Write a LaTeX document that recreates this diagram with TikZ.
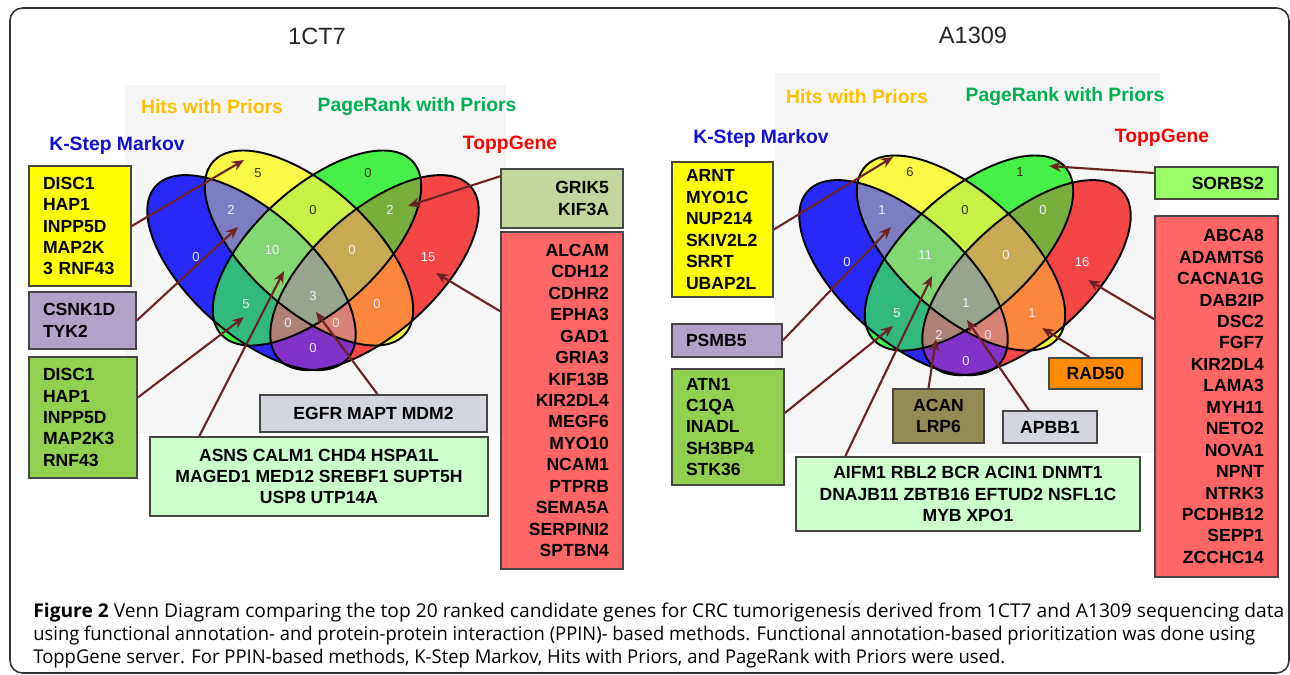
\documentclass[tikz,border=0pt]{standalone}
\usepackage{fontspec}
\setmainfont{Liberation Sans}
\newfontfamily\capfont{Open Sans}
\usepackage{graphicx}
\usetikzlibrary{calc,arrows.meta,positioning}
\definecolor{hitsx}{HTML}{FFC000}
\definecolor{pagex}{HTML}{00B050}
\definecolor{kstepx}{HTML}{1010D0}
\definecolor{toppx}{HTML}{FF0000}
\definecolor{arrowx}{RGB}{110,35,35}
\definecolor{boxln}{RGB}{70,70,70}
\definecolor{softbg}{HTML}{F6F6F6}
\definecolor{numlt}{RGB}{240,238,255}
\definecolor{numdk}{RGB}{50,50,20}
% region colours
\definecolor{rA}{RGB}{40,40,250}
\definecolor{rB}{RGB}{250,250,70}
\definecolor{rC}{RGB}{70,240,70}
\definecolor{rD}{RGB}{245,70,70}
\definecolor{rAB}{RGB}{125,125,195}
\definecolor{rBC}{RGB}{200,240,70}
\definecolor{rCD}{RGB}{120,175,60}
\definecolor{rAC}{RGB}{50,185,125}
\definecolor{rBD}{RGB}{250,135,60}
\definecolor{rAD}{RGB}{130,50,200}
\definecolor{rABC}{RGB}{130,215,115}
\definecolor{rBCD}{RGB}{200,170,85}
\definecolor{rACD}{RGB}{175,130,120}
\definecolor{rABD}{RGB}{215,130,115}
\definecolor{rABCD}{RGB}{150,165,140}
% box fills
\definecolor{yelbox}{RGB}{255,255,0}
\definecolor{lavbox}{RGB}{179,162,199}
\definecolor{grnbox}{RGB}{146,208,80}
\definecolor{olibox}{RGB}{195,214,155}
\definecolor{redbox}{RGB}{255,102,102}
\definecolor{grybox}{RGB}{211,214,222}
\definecolor{mintbox}{RGB}{204,255,204}
\definecolor{limebox}{RGB}{153,255,102}
\definecolor{orabox}{RGB}{255,140,0}
\definecolor{khabox}{RGB}{148,138,84}
\tikzset{
  elA/.style={shift={(-61.5,22.6)},rotate=-42},
  elB/.style={shift={(-4,-2)},rotate=-42},
  elC/.style={shift={(4,-2)},rotate=42},
  elD/.style={shift={(61.5,22.6)},rotate=42},
  rim/.style={line width=1.1pt,black},
  num/.style={font=\fontsize{7.4}{8}\selectfont,text=numlt,inner sep=1pt},
  numd/.style={num,text=numdk},
  setlab/.style={font=\fontsize{11}{13}\selectfont\bfseries},
  ttl/.style={font=\fontsize{13.4}{16}\selectfont,text=black!85},
  gbox/.style={draw=boxln,line width=0.9pt,inner xsep=0.28cm,inner ysep=0pt,font=\fontsize{10}{12.2}\selectfont\bfseries},
  lbox/.style={gbox,align=left},
  rbox/.style={gbox,align=right},
  cbox/.style={gbox,align=center},
  ar/.style={-{Stealth[length=2.4mm,width=2mm]},line width=1.2pt,arrowx},
  capl/.style={anchor=base west,inner sep=0pt,font=\capfont\fontsize{10.8}{13}\selectfont}
}
\newcommand\vell{(0,0) ellipse [x radius=129,y radius=61]}
\newcommand\vtwo[3]{\begin{scope}\clip[el#1]\vell;\fill[#3,el#2]\vell;\end{scope}}
\newcommand\vthree[4]{\begin{scope}\clip[el#1]\vell;\clip[el#2]\vell;\fill[#4,el#3]\vell;\end{scope}}
\newcommand\vennbase{%
  \fill[rA,elA]\vell; \fill[rB,elB]\vell; \fill[rC,elC]\vell; \fill[rD,elD]\vell;
  \vtwo{A}{B}{rAB}\vtwo{B}{C}{rBC}\vtwo{C}{D}{rCD}
  \vtwo{A}{C}{rAC}\vtwo{B}{D}{rBD}\vtwo{A}{D}{rAD}
  \vthree{A}{B}{C}{rABC}\vthree{B}{C}{D}{rBCD}
  \vthree{A}{C}{D}{rACD}\vthree{A}{B}{D}{rABD}
  \begin{scope}\clip[elA]\vell;\clip[elB]\vell;\clip[elC]\vell;\fill[rABCD,elD]\vell;\end{scope}
  \draw[rim,elA]\vell; \draw[rim,elB]\vell; \draw[rim,elC]\vell; \draw[rim,elD]\vell;
}

\begin{document}
\begin{tikzpicture}[x=0.02cm,y=-0.02cm]
\useasboundingbox (0,0) rectangle (1290,674);
\draw[line width=0.9pt,black!80,rounded corners=0.25cm] (10,8) rectangle (1289,673);
\fill[softbg] (125,85) rectangle (506,433);
\fill[softbg] (775,73) rectangle (1160,453);

% titles and set names
\node[ttl] (ttlL) at (317,36) {1CT7};
\node[ttl] (ttlR) at (973,35) {A1309};
\node[setlab,hitsx] (hitsL) at (212,107) {Hits with Priors};
\node[setlab,pagex] (pageL) at (417,107) {PageRank with Priors};
\node[setlab,kstepx] (kstepL) at (117,145) {K-Step Markov};
\node[setlab,toppx] (toppL) at (510,145) {ToppGene};
\node[setlab,hitsx] (hitsR) at (857,97) {Hits with Priors};
\node[setlab,pagex] (pageR) at (1065,97) {PageRank with Priors};
\node[setlab,kstepx] (kstepR) at (761,138) {K-Step Markov};
\node[setlab,toppx] (toppR) at (1162,138) {ToppGene};

% 1CT7 venn
\begin{scope}[shift={(313,250)}]
\vennbase
\node[numd] (Lb) at (-55,-77) {5};
\node[numd] (Lc) at (55,-77) {0};
\node[num] (Lab) at (-82,-40) {2};
\node[numd] (Lbc) at (0,-40) {0};
\node[num] (Lcd) at (77,-40) {2};
\node[num] (La) at (-117,7) {0};
\node[num] (Labc) at (-41,0) {10};
\node[num] (Lbcd) at (39,0) {0};
\node[num] (Ld) at (115,7) {15};
\node[num] (Lac) at (-67,54) {5};
\node[num] (Labcd) at (0,46) {3};
\node[num] (Lbd) at (64,54) {0};
\node[num] (Lacd) at (-25,73) {0};
\node[num] (Labd) at (23,73) {0};
\node[num] (Lad) at (0,98) {0};
\end{scope}

% A1309 venn
\begin{scope}[shift={(965,255)}]
\vennbase
\node[numd] (Rb) at (-55,-83) {6};
\node[numd] (Rc) at (55,-83) {1};
\node[num] (Rab) at (-83,-45) {1};
\node[numd] (Rbc) at (0,-45) {0};
\node[num] (Rcd) at (78,-45) {0};
\node[num] (Ra) at (-118,7) {0};
\node[num] (Rabc) at (-40,0) {11};
\node[num] (Rbcd) at (41,0) {0};
\node[num] (Rd) at (117,7) {16};
\node[num] (Rac) at (-68,58) {5};
\node[num] (Rabcd) at (1,48) {1};
\node[num] (Rbd) at (67,58) {1};
\node[num] (Racd) at (-26,80) {2};
\node[num] (Rabd) at (23,80) {0};
\node[num] (Rad) at (1,106) {0};
\end{scope}

% 1CT7 gene boxes
\node[lbox,fill=yelbox,minimum width=2.04cm,minimum height=2.4cm,text width=1.48cm] (ylb) at (80,226) {DISC1\\HAP1\\INPP5D\\MAP2K\\3 RNF43};
\node[lbox,fill=lavbox,minimum width=2.14cm,minimum height=1.14cm,text width=1.58cm] (plb) at (82.5,320.5) {CSNK1D\\TYK2};
\node[lbox,fill=grnbox,minimum width=2.16cm,minimum height=2.42cm,text width=1.6cm] (glb) at (83,417.5) {DISC1\\HAP1\\INPP5D\\MAP2K3\\RNF43};
\node[rbox,fill=olibox,minimum width=2.44cm,minimum height=1.18cm,text width=1.88cm] (grik) at (562,198.5) {GRIK5\\KIF3A};
\node[rbox,fill=redbox,minimum width=2.44cm,minimum height=6.74cm,text width=1.88cm] (rlb) at (562,400.5) {ALCAM\\CDH12\\CDHR2\\EPHA3\\GAD1\\GRIA3\\KIF13B\\KIR2DL4\\MEGF6\\MYO10\\NCAM1\\PTPRB\\SEMA5A\\SERPINI2\\SPTBN4};
\node[cbox,fill=grybox,minimum width=4.54cm,minimum height=0.74cm] (egfr) at (373.5,413.5) {EGFR MAPT MDM2};
\node[cbox,fill=mintbox,minimum width=6.76cm,minimum height=1.58cm] (lgl) at (319,476.5) {ASNS CALM1 CHD4 HSPA1L\\MAGED1 MED12 SREBF1 SUPT5H\\USP8 UTP14A};

% A1309 gene boxes
\node[lbox,fill=yelbox,minimum width=2.02cm,minimum height=2.7cm,text width=1.46cm] (yrb) at (722.5,229.5) {ARNT\\MYO1C\\NUP214\\SKIV2L2\\SRRT\\UBAP2L};
\node[lbox,fill=lavbox,minimum width=2.2cm,minimum height=0.66cm,text width=1.64cm] (psmb) at (727,340.5) {PSMB5};
\node[lbox,fill=grnbox,minimum width=2.24cm,minimum height=2.32cm,text width=1.68cm] (grb) at (728,427) {ATN1\\C1QA\\INADL\\SH3BP4\\STK36};
\node[rbox,fill=limebox,minimum width=2.46cm,minimum height=0.64cm,text width=1.9cm] (sorbs) at (1216.5,183) {SORBS2};
\node[rbox,fill=redbox,minimum width=2.46cm,minimum height=7.22cm,text width=1.9cm] (rrb) at (1216.5,396.5) {ABCA8\\ADAMTS6\\CACNA1G\\DAB2IP\\DSC2\\FGF7\\KIR2DL4\\LAMA3\\MYH11\\NETO2\\NOVA1\\NPNT\\NTRK3\\PCDHB12\\SEPP1\\ZCCHC14};
\node[cbox,fill=orabox,minimum width=1.86cm,minimum height=0.62cm] (rad) at (1095.5,373.5) {RAD50};
\node[cbox,fill=khabox,minimum width=1.82cm,minimum height=1.08cm] (acan) at (938.5,416) {ACAN\\LRP6};
\node[cbox,fill=grybox,minimum width=1.88cm,minimum height=0.64cm] (apbb) at (1050,427) {APBB1};
\node[cbox,fill=mintbox,minimum width=6.88cm,minimum height=1.48cm] (lgr) at (968,494) {AIFM1 RBL2 BCR ACIN1 DNMT1\\DNAJB11 ZBTB16 EFTUD2 NSFL1C\\MYB XPO1};

% arrows, 1CT7
\coordinate (tL1) at (244,160);
\coordinate (tL2) at (238,227);
\coordinate (tL3) at (244,317);
\coordinate (tL4) at (284,271);
\coordinate (tL5) at (316,312);
\coordinate (tL6) at (408,206);
\coordinate (tL7) at (436,273);
\draw[ar] (ylb.east) -- (tL1);
\draw[ar] (plb.east) -- (tL2);
\draw[ar] ($(glb.east)+(0,-20)$) -- (tL3);
\draw[ar] ($(lgl.north west)+(50,0)$) -- (tL4);
\draw[ar] ($(egfr.north)+(4,0)$) -- (tL5);
\draw[ar] ($(grik.north west)+(0,8)$) -- (tL6);
\draw[ar] ($(rlb.north west)+(0,80)$) -- (tL7);

% arrows, A1309
\coordinate (tR1) at (893,157);
\coordinate (tR2) at (891,227);
\coordinate (tR3) at (893,326);
\coordinate (tR4) at (932,276);
\coordinate (tR5) at (936,339);
\coordinate (tR6) at (967,320);
\coordinate (tR7) at (1042,328);
\coordinate (tR8) at (1049,166);
\coordinate (tR9) at (1088,280);
\draw[ar] (yrb.east) -- (tR1);
\draw[ar] (psmb.east) -- (tR2);
\draw[ar] ($(grb.east)+(0,-14)$) -- (tR3);
\draw[ar] ($(lgr.north west)+(50,0)$) -- (tR4);
\draw[ar] ($(acan.north)+(-10,0)$) -- (tR5);
\draw[ar] ($(apbb.north)+(-21,0)$) -- (tR6);
\draw[ar] ($(rad.north)+(-6,0)$) -- (tR7);
\draw[ar] ($(sorbs.west)+(0,-10)$) -- (tR8);
\draw[ar] ($(rrb.north west)+(0,104)$) -- (tR9);

% caption
\node[capl] (cap1) at (33,617) {\resizebox{25.02cm}{\height}{\textbf{Figure 2} Venn Diagram comparing the top 20 ranked candidate genes for CRC tumorigenesis derived from 1CT7 and A1309 sequencing data}};
\node[capl] (cap2) at (33,640) {\resizebox{24.44cm}{\height}{using functional annotation- and protein-protein interaction (PPIN)- based methods. Functional annotation-based prioritization was done using}};
\node[capl] (cap3) at (33,663) {\resizebox{19.44cm}{\height}{ToppGene server. For PPIN-based methods, K-Step Markov, Hits with Priors, and PageRank with Priors were used.}};
\end{tikzpicture}
\end{document}
